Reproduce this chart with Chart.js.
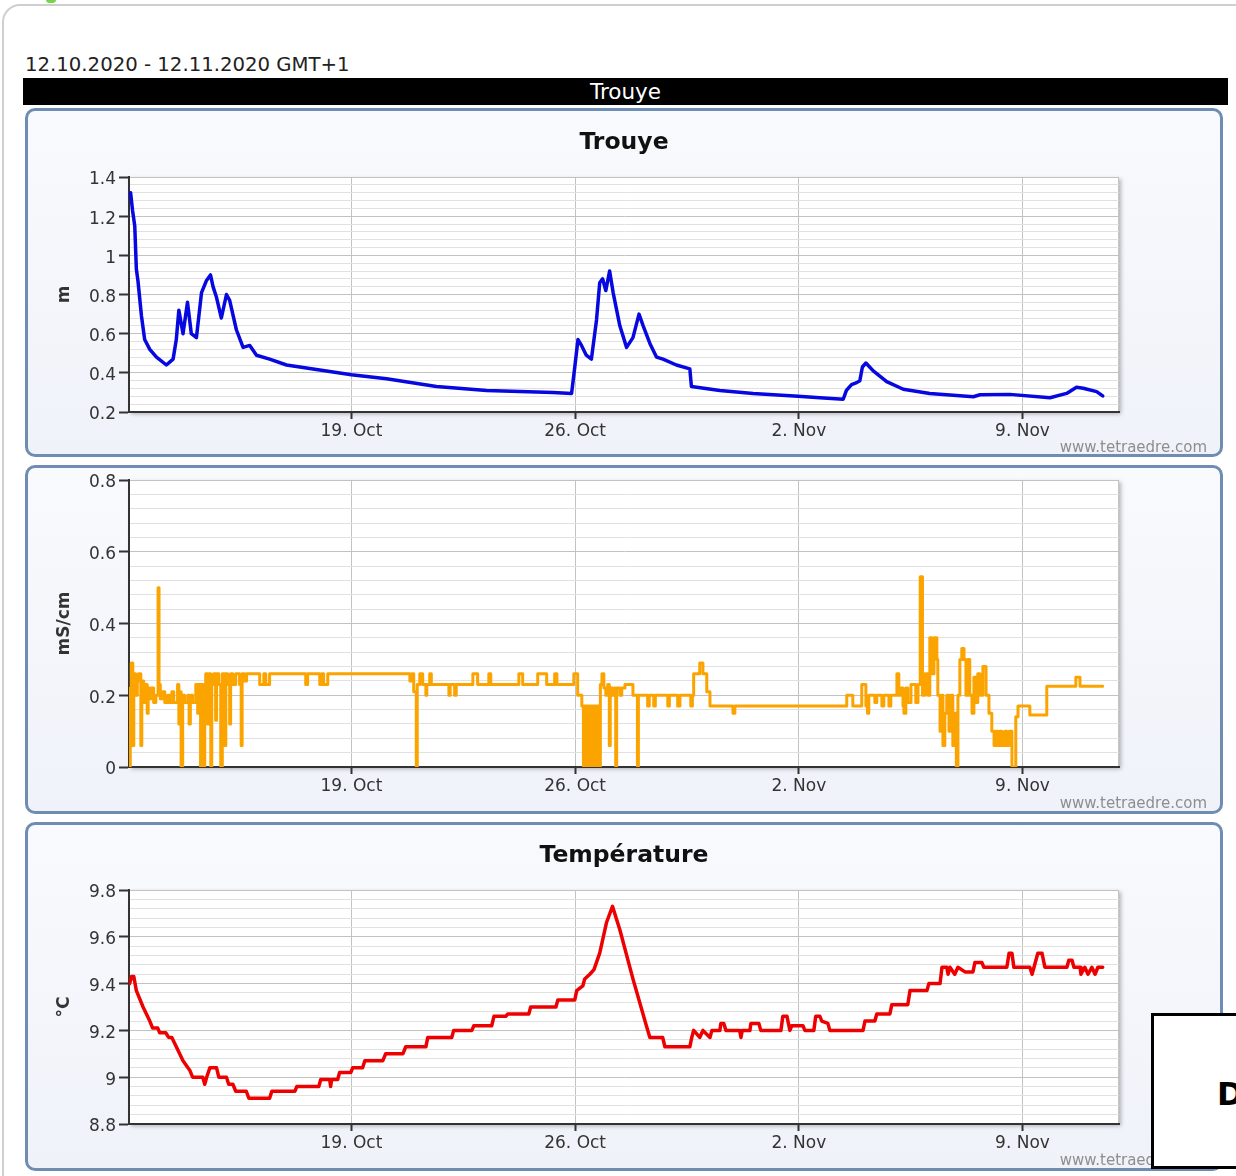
<!DOCTYPE html>
<html>
<head>
<meta charset="utf-8">
<script src="https://cdn.jsdelivr.net/npm/chart.js@4.4.1/dist/chart.umd.min.js"></script>
<style>
  html, body { margin: 0; padding: 0; background: #ffffff; width: 1236px; height: 1176px; overflow: hidden; font-family: "DejaVu Sans", Verdana, sans-serif; }
  #frame { position: absolute; left: 2px; top: 4px; width: 1300px; height: 1300px; border: 2px solid #cfcfcf; border-radius: 18px; box-sizing: border-box; }
  #green { position: absolute; left: 46px; top: -4px; width: 10px; height: 7px; background: #7ad14a; border-radius: 5px; }
  #range { position: absolute; left: 25px; top: 54px; font-size: 19.7px; line-height: 22px; color: #222; white-space: nowrap; }
  #bar { position: absolute; left: 23px; top: 78px; width: 1205px; height: 27px; background: #000; color: #fff; font-size: 21.5px; line-height: 28px; text-align: center; }
  .panel { position: absolute; left: 25px; width: 1198px; height: 349px; box-sizing: border-box; border: 3px solid #6f8db3; border-radius: 10px; background: linear-gradient(#f9fafd, #eff2f9); }
  canvas { position: absolute; left: 25px; }
  .ptitle { position: absolute; left: 25px; width: 1198px; text-align: center; font-weight: bold; font-size: 23.5px; line-height: 26px; color: #111; }
  .credit { position: absolute; left: 900px; width: 307px; text-align: right; font-size: 15px; line-height: 18px; color: #8e8e8e; }
  #box { position: absolute; left: 1151px; top: 1013px; width: 200px; height: 150px; border: 3px solid #000; background: #fff; }
  #box span { position: absolute; left: 63px; top: 60px; font-weight: bold; font-size: 32px; line-height: 36px; color: #000; }
</style>
</head>
<body>
<div id="frame"></div>
<div id="green"></div>
<div id="range">12.10.2020 - 12.11.2020 GMT+1</div>
<div id="bar">Trouye</div>

<div class="panel" style="top:108px"></div>
<div class="panel" style="top:465px"></div>
<div class="panel" style="top:822px"></div>

<canvas id="c1" width="1198" height="349" style="top:108px"></canvas>
<canvas id="c2" width="1198" height="349" style="top:465px"></canvas>
<canvas id="c3" width="1198" height="349" style="top:822px"></canvas>

<div class="ptitle" style="top:128px">Trouye</div>
<div class="ptitle" style="top:841px">Température</div>

<div class="credit" style="top:438px">www.tetraedre.com</div>
<div class="credit" style="top:794px">www.tetraedre.com</div>
<div class="credit" style="top:1151px">www.tetraedre.com</div>

<div id="box"><span>D</span></div>

<script>
// ---------- DATA (time = days since 12.10.2020 00:00) ----------
const dayTicks  = [7, 14, 21, 28];
const dayLabels = ['19. Oct', '26. Oct', '2. Nov', '9. Nov'];

const levelTicks = [0.2, 0.4, 0.6, 0.8, 1.0, 1.2, 1.4];
const condTicks  = [0, 0.2, 0.4, 0.6, 0.8];
const tempTicks  = [8.8, 9.0, 9.2, 9.4, 9.6, 9.8];

const levelDays = [0.06,0.09,0.15,0.22,0.27,0.32,0.43,0.53,0.69,0.90,1.21,1.42,1.52,1.60,1.73,1.87,1.99,2.15,2.31,2.46,2.59,2.67,2.77,2.93,3.09,3.19,3.40,3.61,3.82,4.03,4.44,4.97,5.80,7.00,8.10,9.66,11.23,13.31,13.89,13.99,14.09,14.20,14.35,14.51,14.67,14.77,14.86,14.96,15.08,15.19,15.40,15.61,15.81,16.00,16.13,16.34,16.55,16.75,17.17,17.59,17.64,18.53,19.57,20.98,21.66,22.39,22.49,22.65,22.81,22.91,22.99,23.10,23.33,23.75,24.27,25.10,26.46,26.67,27.60,28.86,29.38,29.69,29.90,30.32,30.51];
const levelValues = [1.30,1.32,1.23,1.15,0.93,0.87,0.69,0.57,0.52,0.48,0.44,0.47,0.57,0.72,0.60,0.76,0.60,0.58,0.81,0.87,0.90,0.84,0.79,0.68,0.80,0.77,0.62,0.53,0.54,0.49,0.47,0.44,0.42,0.39,0.37,0.33,0.31,0.30,0.295,0.43,0.57,0.54,0.49,0.47,0.67,0.86,0.88,0.82,0.92,0.81,0.64,0.53,0.58,0.70,0.64,0.55,0.48,0.47,0.44,0.42,0.33,0.31,0.295,0.28,0.273,0.265,0.31,0.34,0.35,0.36,0.43,0.45,0.41,0.355,0.316,0.295,0.278,0.288,0.29,0.273,0.295,0.326,0.321,0.304,0.282];

const condDays = [0.06,0.08,0.11,0.16,0.19,0.25,0.30,0.34,0.41,0.44,0.50,0.56,0.61,0.64,0.70,0.75,0.81,0.88,0.95,0.98,1.02,1.09,1.16,1.25,1.31,1.38,1.44,1.56,1.60,1.63,1.67,1.72,1.78,1.88,1.92,1.96,2.03,2.13,2.19,2.22,2.28,2.32,2.36,2.41,2.44,2.50,2.53,2.60,2.63,2.69,2.75,2.78,2.85,2.91,2.96,3.03,3.07,3.13,3.19,3.22,3.29,3.38,3.50,3.55,3.58,3.66,3.72,4.13,4.26,4.32,4.44,5.57,5.63,6.01,6.07,6.13,6.26,8.83,8.89,8.95,9.03,9.06,9.14,9.23,9.33,9.36,9.45,9.50,10.05,10.09,10.23,10.28,10.80,10.95,11.30,11.36,12.24,12.36,12.83,13.11,13.36,13.43,13.96,14.08,14.21,14.26,14.29,14.37,14.40,14.46,14.49,14.55,14.58,14.65,14.69,14.74,14.79,14.84,14.90,14.96,15.02,15.07,15.10,15.18,15.24,15.27,15.30,15.40,15.46,15.56,15.81,15.95,15.98,16.27,16.32,16.46,16.51,16.90,16.95,17.21,17.28,17.62,17.67,17.71,17.90,18.00,18.12,18.22,18.94,19.00,22.50,22.69,22.97,23.10,23.15,23.19,23.38,23.44,23.60,23.66,23.82,23.88,24.07,24.13,24.19,24.26,24.29,24.35,24.41,24.51,24.66,24.73,24.80,24.87,24.95,25.04,25.10,25.16,25.23,25.32,25.35,25.42,25.48,25.51,25.57,25.63,25.70,25.76,25.82,25.88,25.93,25.98,26.04,26.10,26.17,26.23,26.29,26.35,26.42,26.48,26.54,26.60,26.67,26.76,26.86,26.95,27.04,27.11,27.17,27.23,27.29,27.36,27.45,27.51,27.58,27.67,27.79,27.86,28.23,28.76,29.67,29.80,30.51];
const condValues = [0.00,0.22,0.29,0.06,0.26,0.20,0.24,0.26,0.06,0.24,0.18,0.23,0.15,0.22,0.19,0.22,0.18,0.20,0.50,0.23,0.19,0.21,0.18,0.20,0.18,0.21,0.18,0.23,0.12,0.21,0.00,0.20,0.18,0.20,0.12,0.20,0.18,0.23,0.15,0.23,0.00,0.23,0.00,0.21,0.26,0.12,0.26,0.00,0.23,0.26,0.13,0.26,0.23,0.00,0.26,0.06,0.26,0.23,0.12,0.26,0.23,0.26,0.23,0.06,0.26,0.24,0.26,0.23,0.26,0.23,0.26,0.23,0.26,0.23,0.26,0.23,0.26,0.24,0.26,0.21,0.00,0.23,0.26,0.23,0.20,0.23,0.26,0.23,0.20,0.23,0.20,0.23,0.26,0.23,0.26,0.23,0.26,0.23,0.26,0.23,0.26,0.23,0.26,0.20,0.17,0.00,0.17,0.00,0.17,0.00,0.17,0.00,0.17,0.00,0.17,0.00,0.23,0.26,0.22,0.20,0.23,0.06,0.22,0.20,0.22,0.00,0.22,0.20,0.22,0.23,0.20,0.00,0.20,0.17,0.20,0.17,0.20,0.17,0.20,0.17,0.20,0.17,0.20,0.26,0.29,0.26,0.21,0.17,0.15,0.17,0.20,0.17,0.23,0.17,0.15,0.20,0.18,0.20,0.17,0.20,0.17,0.20,0.26,0.20,0.22,0.17,0.15,0.22,0.18,0.23,0.18,0.23,0.53,0.20,0.26,0.20,0.36,0.26,0.36,0.30,0.20,0.10,0.20,0.06,0.15,0.20,0.10,0.20,0.06,0.15,0.00,0.20,0.30,0.33,0.30,0.20,0.30,0.20,0.15,0.25,0.18,0.26,0.20,0.28,0.20,0.15,0.10,0.06,0.10,0.06,0.10,0.06,0.10,0.06,0.10,0.00,0.14,0.17,0.145,0.225,0.25,0.225,0.225];

const tempDays = [0.06,0.12,0.19,0.27,0.48,0.69,0.78,0.94,1.00,1.19,1.28,1.38,1.52,1.73,1.94,2.03,2.35,2.41,2.47,2.57,2.78,2.85,3.09,3.16,3.29,3.38,3.71,3.79,4.44,4.51,5.23,5.29,5.98,6.04,6.32,6.35,6.38,6.57,6.63,6.98,7.04,7.35,7.42,7.98,8.07,8.61,8.70,9.33,9.39,10.14,10.20,10.77,10.83,11.39,11.46,11.83,11.89,12.55,12.61,13.40,13.46,13.99,14.05,14.24,14.30,14.46,14.59,14.77,14.98,15.17,15.40,15.81,16.23,16.34,16.74,16.81,17.59,17.65,17.71,17.90,18.00,18.22,18.28,18.53,18.56,18.65,18.72,19.15,19.19,19.23,19.47,19.50,19.75,19.81,20.44,20.50,20.63,20.69,20.72,20.78,21.13,21.19,21.47,21.53,21.66,21.72,21.91,21.97,23.01,23.07,23.38,23.44,23.85,23.91,24.41,24.48,25.01,25.07,25.42,25.48,25.63,25.67,25.73,25.88,25.98,26.20,26.45,26.51,26.73,26.79,27.51,27.58,27.67,27.73,28.23,28.30,28.36,28.48,28.61,28.70,29.39,29.45,29.55,29.61,29.80,29.83,29.95,30.05,30.17,30.27,30.36,30.51];
const tempValues = [9.40,9.43,9.43,9.37,9.30,9.24,9.21,9.21,9.19,9.19,9.17,9.17,9.13,9.07,9.03,9.00,9.00,8.97,9.00,9.04,9.04,9.00,9.00,8.97,8.97,8.94,8.94,8.91,8.91,8.94,8.94,8.96,8.96,8.99,8.99,8.96,8.99,8.99,9.02,9.02,9.04,9.04,9.07,9.07,9.10,9.10,9.13,9.13,9.17,9.17,9.20,9.20,9.22,9.22,9.26,9.26,9.27,9.27,9.30,9.30,9.33,9.33,9.37,9.39,9.42,9.44,9.46,9.53,9.66,9.73,9.63,9.42,9.22,9.17,9.17,9.13,9.13,9.17,9.20,9.17,9.20,9.17,9.20,9.20,9.23,9.23,9.20,9.20,9.17,9.20,9.20,9.23,9.23,9.20,9.20,9.26,9.26,9.22,9.20,9.22,9.22,9.20,9.20,9.26,9.26,9.24,9.23,9.20,9.20,9.24,9.24,9.27,9.27,9.31,9.31,9.37,9.37,9.40,9.40,9.47,9.47,9.44,9.47,9.44,9.47,9.45,9.45,9.49,9.49,9.47,9.47,9.53,9.53,9.47,9.47,9.44,9.47,9.53,9.53,9.47,9.47,9.50,9.50,9.47,9.47,9.44,9.47,9.44,9.47,9.44,9.47,9.47];

// ---------- CHART HELPERS ----------
const FONT = '"DejaVu Sans", Verdana, sans-serif';
Chart.defaults.font.family = FONT;
Chart.defaults.color = '#333';

function withMinors(majors) {
  const out = [];
  for (let i = 0; i < majors.length; i++) {
    out.push(majors[i]);
    if (i < majors.length - 1) {
      const step = (majors[i + 1] - majors[i]) / 5;
      for (let k = 1; k < 5; k++) out.push(Math.round((majors[i] + k * step) * 10000) / 10000);
    }
  }
  return out;
}
function isMajorOf(majors, v) { return majors.some(m => Math.abs(m - v) < 1e-6); }
function fmt(v) { return String(Math.round(v * 10) / 10); }

const plotBg = {
  id: 'plotBg',
  beforeDraw(chart) {
    const {ctx, chartArea: a} = chart;
    ctx.save();
    ctx.shadowColor = 'rgba(0,0,0,0.28)';
    ctx.shadowOffsetX = 2; ctx.shadowOffsetY = 2; ctx.shadowBlur = 4;
    ctx.fillStyle = '#ffffff';
    ctx.fillRect(a.left, a.top, a.right - a.left, a.bottom - a.top);
    ctx.restore();
    ctx.save();
    ctx.strokeStyle = '#c4c4c4'; ctx.lineWidth = 1;
    ctx.strokeRect(a.left + 0.5, a.top + 0.5, a.right - a.left - 1, a.bottom - a.top - 1);
    ctx.restore();
  }
};

function makeChart(id, opts) {
  const allTicks = withMinors(opts.majors);
  return new Chart(document.getElementById(id), {
    type: 'line',
    data: {
      datasets: [{
        data: opts.days.map((d, i) => ({x: d, y: opts.values[i]})),
        borderColor: opts.color,
        borderWidth: opts.width,
        pointRadius: 0,
        tension: 0,
        stepped: opts.stepped || false,
        borderJoinStyle: 'round',
        borderCapStyle: 'round'
      }]
    },
    options: {
      responsive: false,
      animation: false,
      events: [],
      layout: { padding: { left: 0, right: 104, top: opts.top, bottom: 0 } },
      plugins: { legend: { display: false }, tooltip: { enabled: false }, title: { display: false } },
      scales: {
        x: {
          type: 'linear', min: 0.04, max: 31.02,
          afterBuildTicks: s => { s.ticks = dayTicks.map(v => ({value: v})); },
          afterFit: s => { s.height = opts.xh; },
          ticks: {
            autoSkip: false, maxRotation: 0, minRotation: 0, padding: 2,
            color: '#333', font: { size: 17 },
            callback: (v, i) => dayLabels[i]
          },
          grid: { color: '#c2c2c2', lineWidth: 1, tickLength: 7, tickColor: '#333', tickWidth: 2 },
          border: { color: '#333', width: 2 }
        },
        y: {
          type: 'linear', min: opts.majors[0], max: opts.majors[opts.majors.length - 1],
          afterBuildTicks: s => { s.ticks = allTicks.map(v => ({value: v})); },
          afterFit: s => { s.width = 104; },
          ticks: {
            autoSkip: false, padding: 3, labelOffset: 3, color: '#333', font: { size: 17 },
            callback: v => isMajorOf(opts.majors, v) ? fmt(v) : ''
          },
          grid: {
            color: c => isMajorOf(opts.majors, c.tick.value) ? '#c2c2c2' : '#e1e1e1',
            lineWidth: 1,
            tickLength: 10,
            tickWidth: 2,
            tickColor: c => isMajorOf(opts.majors, c.tick.value) ? '#333' : 'rgba(0,0,0,0)'
          },
          border: { color: '#333', width: 2 },
          title: {
            display: true, text: opts.unit, color: '#333',
            font: { size: 17, weight: 'bold' },
            padding: { top: 29, bottom: 0 }
          }
        }
      }
    },
    plugins: [plotBg]
  });
}

makeChart('c1', { days: levelDays, values: levelValues, majors: levelTicks, color: '#0707e0', width: 3.5, unit: 'm', top: 69, xh: 45 });
makeChart('c2', { days: condDays, values: condValues, majors: condTicks, color: '#fba400', width: 3, unit: 'mS/cm', top: 15, xh: 47, stepped: true });
makeChart('c3', { days: tempDays, values: tempValues, majors: tempTicks, color: '#ee0000', width: 3.5, unit: '°C', top: 68, xh: 47 });
</script>
</body>
</html>
